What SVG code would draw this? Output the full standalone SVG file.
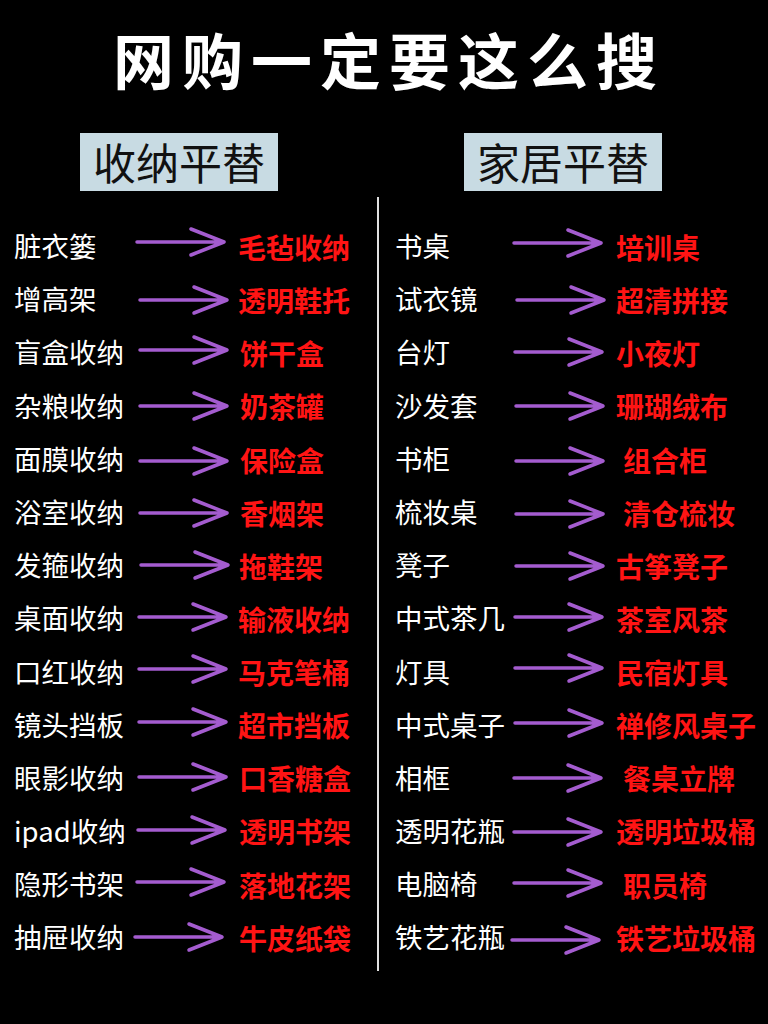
<svg xmlns="http://www.w3.org/2000/svg" xmlns:xlink="http://www.w3.org/1999/xlink" width="768" height="1024" viewBox="0 0 768 1024">
<style>
text{font-family:"Noto Sans CJK SC","Noto Sans",sans-serif}
.t{fill:#fff;font-size:61px;font-weight:700;letter-spacing:8px}
.h{fill:#111;font-size:43px;font-weight:400;text-anchor:middle}
.hb{fill:#c8dbe3}
.w{fill:#fff;font-size:27.5px;font-weight:400}
.r{fill:#ff1414;font-size:28px;font-weight:700}
.a{fill:none;stroke:#a45ccf;stroke-width:3.5;stroke-linecap:round;stroke-linejoin:round}
</style>
<defs>
<path id="arr" class="a" d="M0,0 H87 M54,-13 L87,0 L54,13"/>
</defs>
<rect width="768" height="1024" fill="#000"/>
<g id="title"><text class="t" x="389" y="85" text-anchor="middle">网购一定要这么搜</text></g>
<g id="header-left"><rect class="hb" x="80" y="133" width="198" height="58"/><text class="h" x="179" y="180">收纳平替</text></g>
<g id="header-right"><rect class="hb" x="464" y="133" width="198" height="58"/><text class="h" x="563" y="180">家居平替</text></g>
<line id="divider" x1="378" y1="197" x2="378" y2="971" stroke="#e0e0e0" stroke-width="2"/>
<g id="left-items">
<text class="w" x="14" y="257">脏衣篓</text>
<text class="w" x="14" y="310">增高架</text>
<text class="w" x="14" y="363">盲盒收纳</text>
<text class="w" x="14" y="417">杂粮收纳</text>
<text class="w" x="14" y="470">面膜收纳</text>
<text class="w" x="14" y="523">浴室收纳</text>
<text class="w" x="14" y="576">发箍收纳</text>
<text class="w" x="14" y="629">桌面收纳</text>
<text class="w" x="14" y="683">口红收纳</text>
<text class="w" x="14" y="736">镜头挡板</text>
<text class="w" x="14" y="789">眼影收纳</text>
<text class="w" x="14" y="842">ipad收纳</text>
<text class="w" x="14" y="895">隐形书架</text>
<text class="w" x="14" y="948">抽屉收纳</text>
</g>
<g id="left-results">
<text class="r" x="238" y="259">毛毡收纳</text>
<text class="r" x="238" y="312">透明鞋托</text>
<text class="r" x="240" y="365">饼干盒</text>
<text class="r" x="240" y="418">奶茶罐</text>
<text class="r" x="240" y="472">保险盒</text>
<text class="r" x="240" y="525">香烟架</text>
<text class="r" x="239" y="578">拖鞋架</text>
<text class="r" x="238" y="631">输液收纳</text>
<text class="r" x="238" y="684">马克笔桶</text>
<text class="r" x="238" y="737">超市挡板</text>
<text class="r" x="239" y="790">口香糖盒</text>
<text class="r" x="239" y="843">透明书架</text>
<text class="r" x="239" y="897">落地花架</text>
<text class="r" x="239" y="950">牛皮纸袋</text>
</g>
<g id="right-items">
<text class="w" x="395" y="257">书桌</text>
<text class="w" x="395" y="310">试衣镜</text>
<text class="w" x="395" y="363">台灯</text>
<text class="w" x="395" y="417">沙发套</text>
<text class="w" x="395" y="470">书柜</text>
<text class="w" x="395" y="523">梳妆桌</text>
<text class="w" x="395" y="576">凳子</text>
<text class="w" x="395" y="629">中式茶几</text>
<text class="w" x="395" y="683">灯具</text>
<text class="w" x="395" y="736">中式桌子</text>
<text class="w" x="395" y="789">相框</text>
<text class="w" x="395" y="842">透明花瓶</text>
<text class="w" x="395" y="895">电脑椅</text>
<text class="w" x="395" y="948">铁艺花瓶</text>
</g>
<g id="right-results">
<text class="r" x="616" y="259">培训桌</text>
<text class="r" x="616" y="312">超清拼接</text>
<text class="r" x="616" y="365">小夜灯</text>
<text class="r" x="616" y="418">珊瑚绒布</text>
<text class="r" x="623" y="472">组合柜</text>
<text class="r" x="623" y="525">清仓梳妆</text>
<text class="r" x="616" y="578">古筝凳子</text>
<text class="r" x="616" y="631">茶室风茶</text>
<text class="r" x="616" y="684">民宿灯具</text>
<text class="r" x="616" y="737">禅修风桌子</text>
<text class="r" x="623" y="790">餐桌立牌</text>
<text class="r" x="616" y="843">透明垃圾桶</text>
<text class="r" x="623" y="897">职员椅</text>
<text class="r" x="616" y="950">铁艺垃圾桶</text>
</g>
<g id="connectors">
<use xlink:href="#arr" x="137" y="242"/>
<use xlink:href="#arr" x="140" y="300"/>
<use xlink:href="#arr" x="140" y="350"/>
<use xlink:href="#arr" x="140" y="406"/>
<use xlink:href="#arr" x="140" y="461"/>
<use xlink:href="#arr" x="140" y="513"/>
<use xlink:href="#arr" x="141" y="565"/>
<use xlink:href="#arr" x="139" y="617"/>
<use xlink:href="#arr" x="139" y="669"/>
<use xlink:href="#arr" x="139" y="722"/>
<use xlink:href="#arr" x="139" y="777"/>
<use xlink:href="#arr" x="138" y="830"/>
<use xlink:href="#arr" x="137" y="882"/>
<use xlink:href="#arr" x="135" y="937"/>
<use xlink:href="#arr" x="514" y="243"/>
<use xlink:href="#arr" x="517" y="300"/>
<use xlink:href="#arr" x="515" y="352"/>
<use xlink:href="#arr" x="516" y="406"/>
<use xlink:href="#arr" x="516" y="461"/>
<use xlink:href="#arr" x="516" y="514"/>
<use xlink:href="#arr" x="516" y="566"/>
<use xlink:href="#arr" x="515" y="617"/>
<use xlink:href="#arr" x="515" y="668"/>
<use xlink:href="#arr" x="515" y="723"/>
<use xlink:href="#arr" x="514" y="778"/>
<use xlink:href="#arr" x="514" y="832"/>
<use xlink:href="#arr" x="514" y="883"/>
<use xlink:href="#arr" x="512" y="940"/>
</g>
</svg>
